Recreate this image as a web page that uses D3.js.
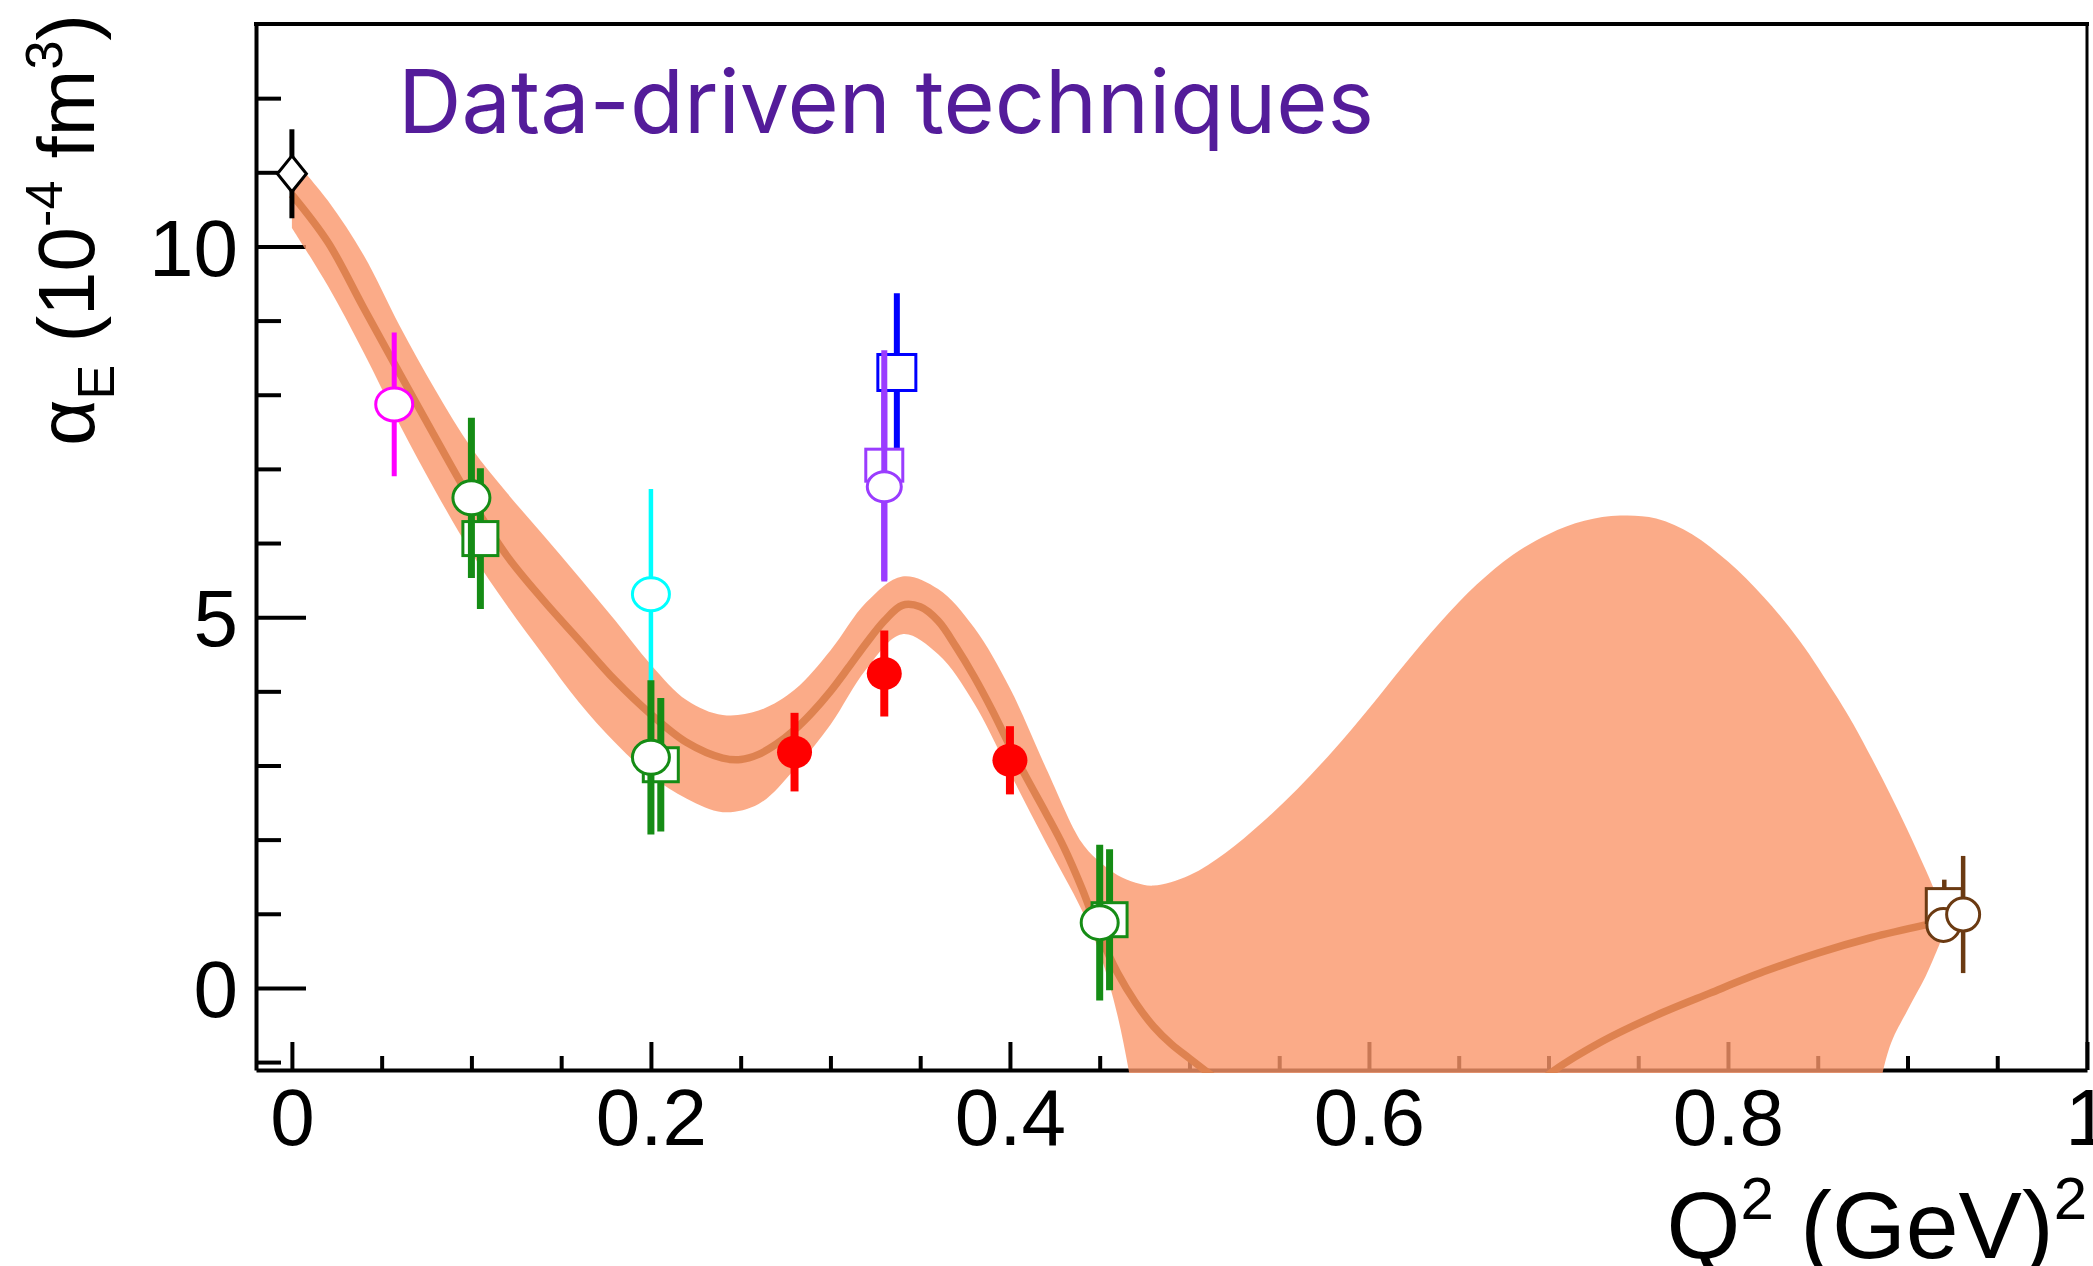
<!DOCTYPE html>
<html>
<head>
<meta charset="utf-8">
<script src="https://cdn.jsdelivr.net/npm/d3@7"></script>
<style>
  body { margin: 0; background: #fff; }
  svg { display: block; }
</style>
</head>
<body>
<svg id="chart"></svg>
<script>
// fit band (upper / lower edge) sampled on a common Q^2 grid
var bandQ  = [0, 0.02, 0.04, 0.06, 0.08, 0.10, 0.12, 0.14, 0.16, 0.18, 0.20, 0.22, 0.24, 0.26, 0.28, 0.30, 0.32, 0.34, 0.36, 0.38, 0.40, 0.42, 0.44, 0.45, 0.46, 0.47, 0.48, 0.50, 0.52, 0.54, 0.56, 0.58, 0.60, 0.62, 0.64, 0.66, 0.68, 0.70, 0.72, 0.74, 0.76, 0.78, 0.80, 0.82, 0.84, 0.86, 0.87, 0.88, 0.89, 0.90, 0.91, 0.918];
var bandHi = [11.2, 10.62, 9.88, 8.93, 8.06, 7.28, 6.67, 6.11, 5.54, 4.96, 4.36, 3.88, 3.68, 3.74, 4.02, 4.55, 5.2, 5.55, 5.38, 4.86, 4.04, 2.97, 1.96, 1.7, 1.52, 1.42, 1.38, 1.52, 1.82, 2.22, 2.68, 3.2, 3.77, 4.37, 4.94, 5.44, 5.84, 6.12, 6.3, 6.37, 6.33, 6.12, 5.75, 5.27, 4.68, 3.95, 3.55, 3.1, 2.63, 2.13, 1.6, 1.15];
var bandLo = [10.25, 9.47, 8.57, 7.6, 6.7, 5.87, 5.15, 4.49, 3.85, 3.31, 2.86, 2.55, 2.37, 2.48, 2.95, 3.55, 4.3, 4.77, 4.5, 3.84, 2.9, 1.96, 1.05, 0.47, -0.38, -1.6, -2.8, -4, -4, -4, -4, -4, -4, -4, -4, -4, -4, -4, -4, -4, -4, -4, -4, -4, -4, -4, -3.2, -1.9, -0.8, -0.3, 0.15, 0.6];

// central fit curve
var fitQ = [0, 0.02, 0.04, 0.06, 0.08, 0.10, 0.12, 0.14, 0.16, 0.18, 0.20, 0.22, 0.24, 0.25, 0.26, 0.27, 0.28, 0.29, 0.30, 0.31, 0.32, 0.33, 0.34, 0.35, 0.36, 0.37, 0.38, 0.39, 0.40, 0.41, 0.42, 0.43, 0.44, 0.45, 0.46, 0.47, 0.48, 0.49, 0.50, 0.52, 0.55, 0.58, 0.61, 0.64, 0.67, 0.70, 0.73, 0.76, 0.79, 0.82, 0.85, 0.88, 0.91];
var fitV = [10.7, 10.06, 9.17, 8.29, 7.42, 6.57, 5.82, 5.23, 4.69, 4.15, 3.69, 3.31, 3.10, 3.08, 3.15, 3.29, 3.48, 3.72, 4.0, 4.32, 4.65, 4.95, 5.16, 5.14, 4.95, 4.6, 4.2, 3.75, 3.26, 2.8, 2.36, 1.9, 1.35, 0.72, 0.2, -0.2, -0.52, -0.76, -0.95, -1.32, -1.85, -2.25, -2.42, -2.3, -1.85, -1.17, -0.72, -0.37, -0.07, 0.22, 0.47, 0.68, 0.85];

// measurements: [Q^2, alpha_E, error]
var blackDiamond  = [[0.000, 10.98, 0.60]];
var magentaCircle = [[0.057, 7.87, 0.97]];
var cyanCircle    = [[0.200, 5.31, 1.42]];
var greenSquare   = [[0.105, 6.06, 0.95], [0.2055, 3.01, 0.90], [0.4555, 0.92, 0.95]];
var greenCircle   = [[0.100, 6.61, 1.08], [0.200, 3.11, 1.04], [0.450, 0.88, 1.05]];
var redDot        = [[0.280, 3.18, 0.53], [0.330, 4.24, 0.58], [0.400, 3.07, 0.46]];
var blueSquare    = [[0.337, 8.30, 1.07]];
var violetSquare  = [[0.330, 7.05, 1.55]];
var violetCircle  = [[0.330, 6.76, 1.28]];
var brownSquare   = [[0.9205, 1.11, 0.35]];
var brownCircle   = [[0.920, 0.85, 0.0], [0.931, 0.99, 0.79]];

var xMajor = [0, 0.2, 0.4, 0.6, 0.8, 1];
var yMajor = [0, 5, 10];

var width = 2093, height = 1266;
var padL = 256, padR = 2087, padT = 24, padB = 1070;

var svg = d3.select("#chart")
    .attr("width", width)
    .attr("height", height)
    .style("font-family", "'Liberation Sans', Arial, Helvetica, sans-serif");

svg.append("rect").attr("width", width).attr("height", height).attr("fill", "#fff");

var x = d3.scaleLinear().domain([-0.02, 1]).range([padL, padR]);
var y = d3.scaleLinear().domain([-1.107, 13.0]).range([padB, padT]);

// ---- axes (drawn first, the band sits on top of the bottom axis) ----
var xMinor = d3.range(0, 1.0001, 0.05).filter(d => Math.abs(d * 5 - Math.round(d * 5)) > 1e-6);
var yMinor = d3.range(-1, 13).filter(d => d % 5 !== 0);

svg.append("g")
    .attr("transform", "translate(0," + padB + ")")
    .call(d3.axisBottom(x).tickValues(xMinor).tickSize(-14).tickSizeOuter(0).tickFormat(""))
    .call(g => g.select(".domain").remove())
    .call(g => g.selectAll("line").attr("stroke-width", 4));

var xAxis = svg.append("g")
    .attr("transform", "translate(0," + padB + ")")
    .call(d3.axisBottom(x).tickValues(xMajor).tickSize(-28).tickSizeOuter(0)
      .tickFormat(d3.format("~g")));
xAxis.select(".domain").attr("stroke-width", 4);
xAxis.selectAll("line").attr("stroke-width", 4);
xAxis.selectAll("text")
    .attr("y", 75).attr("dy", null)
    .attr("font-size", 80).attr("font-family", "'Liberation Sans', Arial, sans-serif");

svg.append("g")
    .attr("transform", "translate(" + padL + ",0)")
    .call(d3.axisLeft(y).tickValues(yMinor).tickSize(-25).tickSizeOuter(0).tickFormat(""))
    .call(g => g.select(".domain").remove())
    .call(g => g.selectAll("line").attr("stroke-width", 4));

var yAxis = svg.append("g")
    .attr("transform", "translate(" + padL + ",0)")
    .call(d3.axisLeft(y).tickValues(yMajor).tickSize(-50).tickSizeOuter(0));
yAxis.select(".domain").attr("stroke-width", 4);
yAxis.selectAll("line").attr("stroke-width", 4);
yAxis.selectAll("text")
    .attr("x", -18).attr("dy", "0.36em")
    .attr("font-size", 80).attr("font-family", "'Liberation Sans', Arial, sans-serif");

// frame: top and right edges
svg.append("line").attr("x1", padL - 2).attr("x2", padR + 2).attr("y1", padT).attr("y2", padT)
    .attr("stroke", "#000").attr("stroke-width", 4);
svg.append("line").attr("x1", padR).attr("x2", padR).attr("y1", padT).attr("y2", padB)
    .attr("stroke", "#000").attr("stroke-width", 3);

// ---- fit band and curve ----
svg.append("clipPath").attr("id", "plotClip")
  .append("rect").attr("x", padL).attr("y", padT).attr("width", padR - padL).attr("height", padB - padT + 3);

var band = bandQ.map((q, i) => ({ q: q, hi: bandHi[i], lo: bandLo[i] }));
var fit = fitQ.map((q, i) => ({ q: q, v: fitV[i] }));

var plot = svg.append("g").attr("clip-path", "url(#plotClip)");

plot.append("path")
    .datum(band)
    .attr("fill", "rgb(250,150,106)")
    .attr("fill-opacity", 0.8)
    .attr("d", d3.area()
      .x(d => x(d.q)).y0(d => y(d.lo)).y1(d => y(d.hi))
      .curve(d3.curveCatmullRom.alpha(0.5)));

plot.append("path")
    .datum(fit)
    .attr("fill", "none")
    .attr("stroke", "rgb(222,130,80)")
    .attr("stroke-width", 7.5)
    .attr("d", d3.line().x(d => x(d.q)).y(d => y(d.v)).curve(d3.curveCatmullRom.alpha(0.5)));

// ---- data points ----
var marks = svg.append("g");

function errorBars(pts, color, w) {
  marks.selectAll(null).data(pts).enter().append("line")
      .attr("x1", d => x(d[0])).attr("x2", d => x(d[0]))
      .attr("y1", d => y(d[1] + d[2])).attr("y2", d => y(d[1] - d[2]))
      .attr("stroke", color).attr("stroke-width", w);
}

function circles(pts, color, opts) {
  errorBars(pts, color, opts.bar);
  marks.selectAll(null).data(pts).enter().append("ellipse")
      .attr("cx", d => x(d[0])).attr("cy", d => y(d[1]))
      .attr("rx", opts.rx).attr("ry", opts.ry)
      .attr("fill", opts.filled ? color : "#fff")
      .attr("stroke", color).attr("stroke-width", opts.filled ? 0 : 3);
}

function squares(pts, color, opts) {
  errorBars(pts, color, opts.bar);
  marks.selectAll(null).data(pts).enter().append("rect")
      .attr("x", d => x(d[0]) - opts.w / 2).attr("y", d => y(d[1]) - opts.h / 2)
      .attr("width", opts.w).attr("height", opts.h)
      .attr("fill", "#fff").attr("stroke", color).attr("stroke-width", 3);
}

function diamonds(pts, color, opts) {
  errorBars(pts, color, opts.bar);
  marks.selectAll(null).data(pts).enter().append("path")
      .attr("d", d => {
        var cx = x(d[0]), cy = y(d[1]);
        return "M" + cx + "," + (cy - opts.h) + "L" + (cx + opts.w) + "," + cy +
               "L" + cx + "," + (cy + opts.h) + "L" + (cx - opts.w) + "," + cy + "Z";
      })
      .attr("fill", "#fff").attr("stroke", color).attr("stroke-width", 3);
}

var green = "#158c15", violet = "#9a3cff", brown = "#6b3a12";

diamonds(blackDiamond, "#000", { w: 14.5, h: 18, bar: 5 });
circles(magentaCircle, "#ff00ff", { rx: 18.5, ry: 16.5, bar: 5 });
circles(cyanCircle, "#00ffff", { rx: 18.5, ry: 16.5, bar: 4.5 });
squares(greenSquare, green, { w: 35, h: 34, bar: 7 });
circles(greenCircle, green, { rx: 18.5, ry: 17, bar: 7 });
circles(redDot, "#ff0000", { rx: 17.5, ry: 16.5, bar: 8, filled: true });
squares(blueSquare, "#0000ff", { w: 38, h: 36, bar: 6 });
squares(violetSquare, violet, { w: 37, h: 32, bar: 6 });
circles(violetCircle, violet, { rx: 17, ry: 15, bar: 6 });
squares(brownSquare, brown, { w: 36, h: 34, bar: 4.5 });
circles(brownCircle, brown, { rx: 16.5, ry: 16.5, bar: 4.5 });

// ---- titles ----
svg.append("text")
    .attr("x", 398).attr("y", 133)
    .attr("font-family", "Inter, 'Open Sans', sans-serif")
    .attr("font-size", 88)
    .attr("fill", "#541c9a")
    .text("Data-driven techniques");

var yTitle = svg.append("text")
    .attr("transform", "translate(94,14) rotate(-90)")
    .attr("text-anchor", "end")
    .attr("font-size", 80);
yTitle.append("tspan").text("α");
yTitle.append("tspan").attr("font-size", 52).attr("dy", 20).text("E");
yTitle.append("tspan").attr("dy", -20).text(" (10");
yTitle.append("tspan").attr("font-size", 52).attr("dy", -32).text("-4");
yTitle.append("tspan").attr("dy", 32).text(" fm");
yTitle.append("tspan").attr("font-size", 52).attr("dy", -32).text("3");
yTitle.append("tspan").attr("dy", 32).text(")");

var xTitle = svg.append("text")
    .attr("x", padR).attr("y", 1258)
    .attr("text-anchor", "end")
    .attr("font-size", 95);
xTitle.append("tspan").text("Q");
xTitle.append("tspan").attr("font-size", 60).attr("dy", -39).text("2");
xTitle.append("tspan").attr("dy", 39).text(" (GeV)");
xTitle.append("tspan").attr("font-size", 60).attr("dy", -39).text("2");
</script>
</body>
</html>
